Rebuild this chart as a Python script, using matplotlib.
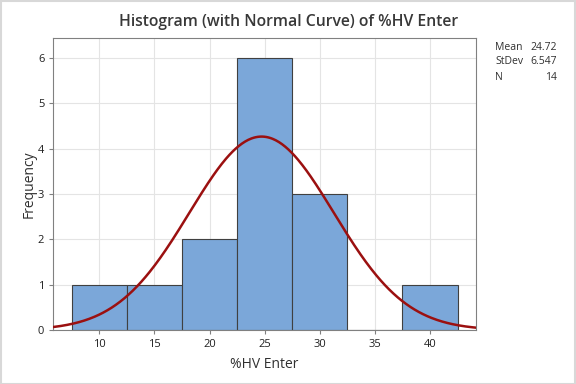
import numpy as np
import matplotlib
matplotlib.use("Agg")
import matplotlib.pyplot as plt

bin_centers = [10, 15, 20, 25, 30, 35, 40]
counts = [1, 1, 2, 6, 3, 0, 1]
bin_width = 5
mean, sd, n = 24.72, 6.547, 14
stat_labels = ["Mean", "StDev", "N"]
stat_values = ["24.72", "6.547", "14"]
xticks = [10, 15, 20, 25, 30, 35, 40]
yticks = [0, 1, 2, 3, 4, 5, 6]

plt.rcParams['font.family'] = ['Open Sans', 'DejaVu Sans']

fig = plt.figure(figsize=(5.76, 3.84), dpi=100)
ax = fig.add_axes([0.0926, 0.1406, 0.8264 - 0.0926, 0.9023 - 0.1406])

ax.bar(bin_centers, counts, width=bin_width, color='#7BA7D9', edgecolor='#404040',
       linewidth=0.8, zorder=2)
xs = np.linspace(5.83, 44.17, 400)
ys = n * bin_width * np.exp(-0.5 * ((xs - mean) / sd) ** 2) / (sd * np.sqrt(2 * np.pi))
ax.plot(xs, ys, color='#9B1010', linewidth=1.8, zorder=3)

ax.set_xlim(5.83, 44.17)
ax.set_ylim(0, 6.45)
ax.set_xticks(xticks)
ax.set_yticks(yticks)
ax.grid(True, color='#E4E4E4', linewidth=0.8, zorder=0)
ax.set_axisbelow(True)
for s in ax.spines.values():
    s.set_color('#808080')
    s.set_linewidth(0.8)
ax.tick_params(axis='both', labelsize=8, color='#808080', length=3, width=0.8)
ax.tick_params(axis='both', labelcolor='#202020')

ax.set_xlabel('%HV Enter', fontsize=10, color='#303030', labelpad=5)
ax.set_ylabel('Frequency', fontsize=10, color='#303030', labelpad=1)
fig.text(0.501, 0.943, 'Histogram (with Normal Curve) of %HV Enter', ha='center', va='center',
         fontsize=11.3, fontweight='semibold', color='#383838')

for i, (lab, val) in enumerate(zip(stat_labels, stat_values)):
    y = 1 - (47 + 15 * i) / 384
    fig.text(495 / 576, y, lab, ha='left', va='center', fontsize=7.5, color='#303030')
    fig.text(557 / 576, y, val, ha='right', va='center', fontsize=7.5, color='#303030')

fig.patches.append(matplotlib.patches.Rectangle((0.001, 0.001), 0.997, 0.997, transform=fig.transFigure,
                                                fill=False, edgecolor='#D8D8D8', linewidth=1.5))
fig.savefig('out.png', dpi=100)
